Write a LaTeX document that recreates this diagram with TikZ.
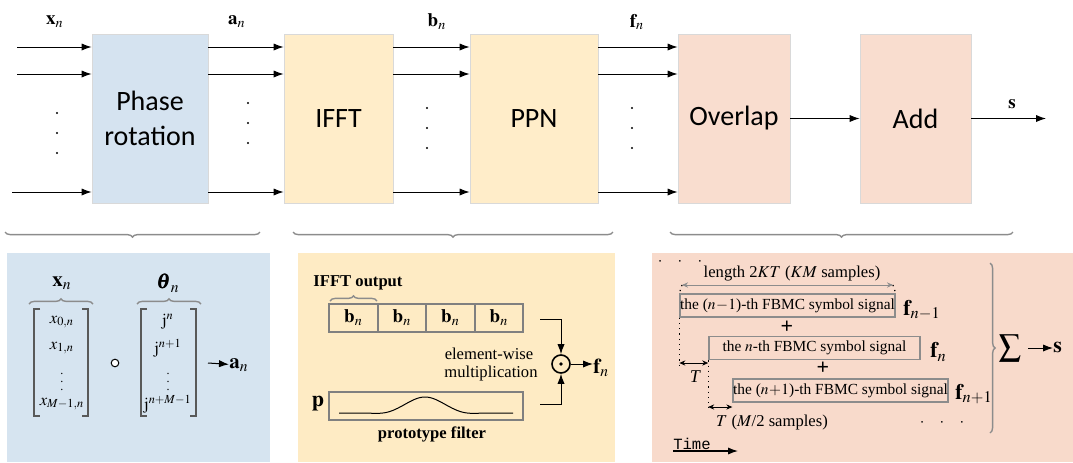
\documentclass[tikz,border=0pt]{standalone}
\usepackage{mathptmx}
\usepackage{bm}
\usepackage{fontspec}
\setmainfont{Liberation Serif}
\setmonofont{Liberation Mono}
\newfontfamily\blockfont{Carlito}
\usetikzlibrary{arrows.meta,decorations.pathreplacing,positioning}
\definecolor{prblue}{HTML}{D5E3F0}
\definecolor{ffyel}{HTML}{FFEDC9}
\definecolor{olpeach}{HTML}{F9DDCF}
\definecolor{pnblue}{HTML}{D6E4F0}
\definecolor{pnyel}{HTML}{FEEBC4}
\definecolor{pnpeach}{HTML}{F8DACB}
\newcommand{\threedots}{$\cdot\hspace{6.5pt}\cdot\hspace{6.5pt}\cdot$}
\begin{document}
\begin{tikzpicture}[x=0.5pt,y=-0.5pt,
blk/.style={draw=black!15,line width=0.4pt,minimum height=84.5pt,inner sep=0pt,align=center,
  font=\blockfont\fontsize{14}{17.5}\selectfont},
lbl/.style={inner sep=0pt,font=\fontsize{9.5}{11}\selectfont},
tx/.style={inner sep=0pt,font=\fontsize{8.3}{10}\selectfont},
arr/.style={-{Latex[length=5pt,width=3.6pt]},line width=0.5pt},
tarr/.style={{Stealth[length=3pt,width=2.6pt]}-{Stealth[length=3pt,width=2.6pt]},line width=0.4pt},
brc/.style={decorate,decoration={brace,amplitude=2.6pt},draw=black!45,line width=0.7pt},
bkt/.style={draw=black!65,line width=0.6pt},
cell/.style={draw=black!50,line width=0.8pt,inner sep=0pt,minimum height=14pt},
sig/.style={draw=black!45,line width=0.8pt,inner sep=0pt,minimum height=11.5pt,minimum width=105.5pt,
  font=\fontsize{7.7}{9}\selectfont},
flab/.style={inner sep=0pt,anchor=west,font=\fontsize{11}{12}\selectfont}]
\useasboundingbox (0,0) rectangle (1073,462);

% processing chain
\node[blk,fill=prblue,minimum width=58pt] (PR) at (150,118.5) {Phase\\rotation};
\node[blk,fill=ffyel,minimum width=54.5pt] (IF) at (338.5,118.5) {IFFT};
\node[blk,fill=ffyel,minimum width=64pt] (PP) at (534,118.5) {PPN};
\node[blk,fill=olpeach,minimum width=56pt] (OL) at (734,118.5) {Overlap};
\node[blk,fill=olpeach,minimum width=55.5pt] (AD) at (915.5,118.5) {Add};

\foreach \y/\s [count=\i] in {47/17,74/17,192/12} {
  \coordinate (in\i) at (\s,\y);
  \draw[arr] (in\i) -- (PR.west |- in\i);
  \draw[arr] (PR.east |- in\i) -- (IF.west |- in\i);
  \draw[arr] (IF.east |- in\i) -- (PP.west |- in\i);
  \draw[arr] (PP.east |- in\i) -- (OL.west |- in\i);
}
\coordinate (sout) at (1046,118.5);
\draw[arr] (OL) -- (AD);
\draw[arr] (AD) -- (sout);

\node[lbl] (xn) at (55,22) {$\mathbf{x}_n$};
\node[lbl] (an) at (237,22) {$\mathbf{a}_n$};
\node[lbl] (bn) at (437,22) {$\mathbf{b}_n$};
\node[lbl] (fn) at (637,22) {$\mathbf{f}_n$};
\node[lbl] (sn) at (1012,104) {$\mathbf{s}$};

\foreach \x/\y in {57/113,248/103,427/108,632/108}
  \foreach \d in {0,20,40}
    \fill (\x,\y+\d) circle (0.6pt);

% braces under the chain
\draw[brc] (260,232) -- (5,232);
\draw[brc] (613,232) -- (293,232);
\draw[brc] (1013,232) -- (670,232);

% phase rotation detail
\fill[pnblue] (7,253) rectangle (270,462);
\node[lbl,font=\fontsize{10.5}{12}\selectfont] (xv) at (62,283) {$\mathbf{x}_n$};
\node[lbl,font=\fontsize{10.5}{12}\selectfont] (tv) at (168,283) {$\bm{\theta}_n$};
\draw[brc] (29,304) -- (93,304);
\draw[brc] (137,304) -- (201,304);
\draw[bkt] (40,309) -- (34,309) -- (34,416) -- (40,416);
\draw[bkt] (82,309) -- (88,309) -- (88,416) -- (82,416);
\draw[bkt] (147,309) -- (141,309) -- (141,416) -- (147,416);
\draw[bkt] (190,309) -- (196,309) -- (196,416) -- (190,416);
\node[tx] (x0) at (62,322) {$x_{0,n}$};
\node[tx] (x1) at (62,348) {$x_{1,n}$};
\node[tx,font=\fontsize{6}{7}\selectfont] (xd) at (62,376) {$\vdots$};
\node[tx] (xm) at (62,404) {$x_{M-1,n}$};
\node[tx] (j0) at (168,322) {$\mathrm{j}^{n}$};
\node[tx] (j1) at (168,348) {$\mathrm{j}^{n+1}$};
\node[tx,font=\fontsize{6}{7}\selectfont] (jd) at (168,376) {$\vdots$};
\node[tx] (jm) at (168,404) {$\mathrm{j}^{n+M-1}$};
\node[circle,draw,fill=white,line width=0.5pt,inner sep=0pt,minimum size=3.8pt] (hp) at (115,363) {};
\coordinate (aa) at (208,363);
\node[lbl,font=\fontsize{10.5}{12}\selectfont] (ao) at (239,365) {$\mathbf{a}_n$};
\draw[arr] (aa) -- (ao);

% PPN detail
\fill[pnyel] (298,253) rectangle (615,462);
\node[tx,font=\bfseries\fontsize{8.3}{10}\selectfont] (io) at (358,283) {IFFT output};
\draw[brc] (330,301) -- (377,301);
\foreach \i in {0,...,3}
  \node[cell,minimum width=24.25pt,font=\fontsize{9.5}{11}\selectfont] (b\i) at (353.5+48.5*\i,318) {$\mathbf{b}_n$};
\node[cell,minimum width=97pt] (pf) at (426,406) {};
\draw[line width=0.5pt] plot[domain=339:513,samples=90]
  (\x,{413-16*exp(-((\x-425)/26)^2)+1.2*exp(-((\x-385)/14)^2)+1.2*exp(-((\x-465)/14)^2)});
\node[lbl,font=\bfseries\fontsize{11}{12}\selectfont] (pv) at (318,404) {$\mathbf{p}$};
\node[tx,font=\bfseries\fontsize{8.3}{10}\selectfont] (pt) at (432,434) {prototype filter};
\node[tx] (ew) at (489,354) {element-wise};
\node[tx] (mu) at (491,374) {multiplication};
\node[circle,draw,line width=0.8pt,inner sep=0pt,minimum size=9pt] (ml) at (561,364) {};
\fill (ml.center) circle (0.9pt);
\coordinate (bo) at (540,319);
\coordinate (po) at (540,404);
\draw[arr] (bo) -| (ml.north);
\draw[arr] (po) -| (ml.south);
\node[lbl,font=\fontsize{10.5}{12}\selectfont,anchor=west] (fo) at (593,368) {$\mathbf{f}_n$};
\draw[arr] (ml.east) -- (fo.west |- ml.east);

% overlap and add detail
\fill[pnpeach] (652,253) rectangle (1073,462);
\node[tx] (d0) at (680,262) {\threedots};
\node[tx] (ln) at (792,274) {length 2$K$$T$ ($KM$ samples)};
\node[sig] (s1) at (787.5,305.5) {the ($n\!-\!1$)-th FBMC symbol signal};
\node[sig] (s2) at (814.5,348) {the $n$-th FBMC symbol signal};
\node[sig] (s3) at (840.5,390.5) {the ($n\!+\!1$)-th FBMC symbol signal};
\node[flab] (f1) at (903,310) {$\mathbf{f}_{n-1}$};
\node[flab] (f2) at (930,352) {$\mathbf{f}_{n}$};
\node[flab] (f3) at (955,394) {$\mathbf{f}_{n+1}$};
\node[lbl,font=\bfseries\fontsize{11}{12}\selectfont] (p1) at (787,327) {+};
\node[lbl,font=\bfseries\fontsize{11}{12}\selectfont] (p2) at (823,368) {+};
\coordinate (la) at (682,285);
\coordinate (lb) at (893,285);
\draw[tarr,draw=black!45] (la) -- (lb);
\draw[dotted,line width=0.6pt] (la) -- (s1.north west);
\draw[dotted,line width=0.6pt] (lb) -- (s1.north east);
\draw[dotted,line width=0.6pt] (s1.south west) -- ++(0,48);
\draw[dotted,line width=0.6pt] (s2.south west) -- ++(0,49);
\draw[tarr] (s1.south west |- 0,363) -- (s2.south west |- 0,363);
\draw[tarr] (s2.south west |- 0,407) -- (s3.south west |- 0,407);
\node[tx,font=\itshape\fontsize{9}{10}\selectfont] (t1) at (695,377) {T};
\node[tx] (t2) at (772,422) {$T$ ($M$/2 samples)};
\node[tx] (d1) at (942,423) {\threedots};
\draw[brc] (990,263) -- (990,433);
\node[lbl,font=\fontsize{11}{12}\selectfont] (sm) at (1010,348) {$\displaystyle\sum$};
\node[lbl,font=\fontsize{11}{12}\selectfont,anchor=west] (so) at (1053,347) {$\mathbf{s}$};
\draw[arr] (1028,348) -- (so.west |- 0,348);
\node[tx,font=\ttfamily\fontsize{7.8}{9}\selectfont] (tm) at (692,444) {Time};
\coordinate (ta) at (673,451);
\coordinate (tb) at (738,451);
\draw[arr,line width=0.6pt] (ta) -- (tb);
\end{tikzpicture}
\end{document}
